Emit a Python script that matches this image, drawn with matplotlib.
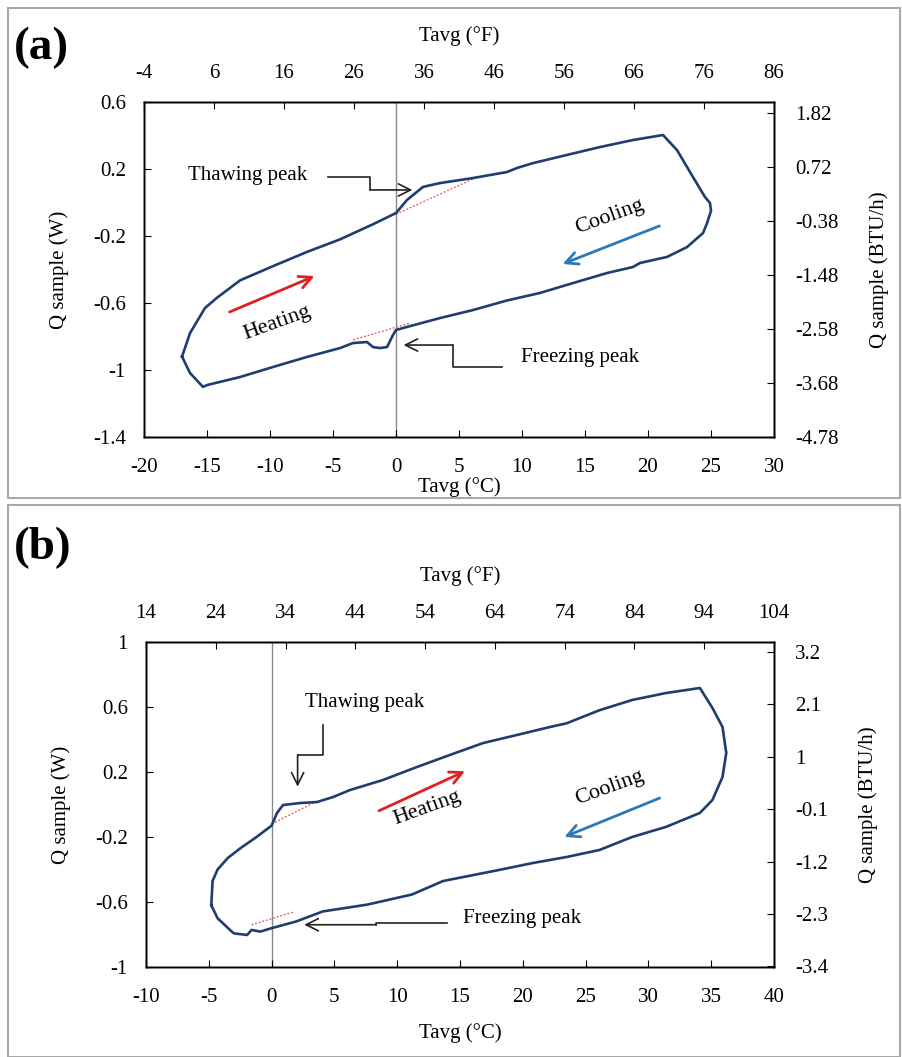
import numpy as np
import matplotlib
matplotlib.use("Agg")
from matplotlib import pyplot as plt
from matplotlib.patches import Rectangle

plt.rcParams['font.family'] = ['Liberation Serif', 'DejaVu Serif']

# ---- panel (a) : loop (deg C, W) ----
a_T = [-16.98, -16.35, -15.16, -14.23, -12.38, -9.76, -7.06, -4.44, -1.83, 0.0,
       0.87, 2.14, 3.49, 6.11, 8.81, 9.6, 10.87, 13.57, 16.19, 18.81, 21.19,
       22.3, 23.57, 24.52, 24.92, 25.0, 24.7, 24.37, 23.10, 21.51, 19.37, 18.81,
       16.75, 14.05, 11.43, 8.81, 6.11, 3.49, 0.87, 0.0, -0.24, -0.71, -1.27,
       -1.83, -2.30, -3.41, -4.44, -7.06, -9.76, -12.38, -15.0, -15.32, -16.35,
       -16.98]
a_Q = [-0.92, -0.78, -0.63, -0.57, -0.465, -0.38, -0.295, -0.22, -0.13, -0.063,
       0.015, 0.093, 0.116, 0.146, 0.182, 0.206, 0.235, 0.284, 0.331, 0.373, 0.403,
       0.313, 0.152, 0.033, -0.003, -0.05, -0.12, -0.182, -0.266, -0.325, -0.361,
       -0.385, -0.421, -0.481, -0.540, -0.585, -0.642, -0.690, -0.743, -0.761,
       -0.791, -0.863, -0.869, -0.863, -0.833, -0.839, -0.869, -0.922, -0.982,
       -1.042, -1.09, -1.101, -1.018, -0.92]
a_thaw_T = [0.0, 6.1]
a_thaw_Q = [-0.07, 0.14]
a_freeze_T = [-3.4, 1.1]
a_freeze_Q = [-0.82, -0.72]

# ---- panel (b) ----
b_T = [-4.8, -4.7, -4.3, -3.5, -2.5, -1.2, 0.0, 0.43, 0.91, 2.26, 3.61, 4.89,
       6.24, 8.87, 11.58, 14.2, 16.83, 19.54, 22.17, 23.5, 26.1, 28.7, 31.4, 34.1,
       35.1, 35.9, 36.2, 35.9, 35.1, 34.1, 31.4, 28.7, 26.1, 23.5, 20.8, 18.1,
       13.65, 11.17, 7.62, 4.08, 1.95, 0.0, -0.89, -1.6, -1.95, -3.0, -3.2, -4.3,
       -4.8]
b_Q = [-0.62, -0.47, -0.40, -0.33, -0.27, -0.20, -0.13, -0.052, -0.003, 0.009,
       0.015, 0.046, 0.089, 0.151, 0.231, 0.305, 0.378, 0.428, 0.477, 0.50, 0.58,
       0.643, 0.686, 0.717, 0.594, 0.477, 0.317, 0.169, 0.028, -0.052, -0.138,
       -0.2, -0.28, -0.323, -0.36, -0.403, -0.471, -0.554, -0.616, -0.658, -0.72,
       -0.761, -0.782, -0.772, -0.803, -0.793, -0.78, -0.70, -0.62]
b_thaw_T = [0.0, 3.6]
b_thaw_Q = [-0.12, 0.02]
b_freeze_T = [-1.6, 1.8]
b_freeze_Q = [-0.74, -0.66]

# axis tick labels
a_xticks = np.arange(-20, 31, 5)
a_yticks = [-1.4, -1, -0.6, -0.2, 0.2, 0.6]
a_fticks = np.arange(-4, 87, 10)
a_btu = [-4.78, -3.68, -2.58, -1.48, -0.38, 0.72, 1.82]
b_xticks = np.arange(-10, 41, 5)
b_yticks = [-1, -0.6, -0.2, 0.2, 0.6, 1]
b_fticks = np.arange(14, 105, 10)
b_btu = [-3.4, -2.3, -1.2, -0.1, 1, 2.1, 3.2]

W2BTU = 3.412
LINE = '#1f3d6d'
FS = 15


def c2f(c):
    return c * 1.8 + 32


def setup(ax, xlim, ylim, xt, yt, ft, btu, xlabelpad):
    ax.set_xlim(xlim)
    ax.set_ylim(ylim)
    ax.set_xticks(xt)
    ax.set_xticklabels([f'{v:g}' for v in xt])
    ax.set_yticks(yt)
    ax.set_yticklabels([f'{v:g}' for v in yt])
    ax.tick_params(direction='in', length=5, labelsize=FS)
    ax.tick_params(axis='x', pad=15)
    ax.tick_params(axis='y', pad=13)
    ax.set_xlabel('Tavg (°C)', fontsize=FS, labelpad=xlabelpad)
    ax.set_ylabel('Q sample (W)', fontsize=FS, labelpad=17)
    ax.axvline(0, color='#888888', lw=1.0, zorder=1)

    top = ax.twiny()
    top.set_xlim(c2f(xlim[0]), c2f(xlim[1]))
    top.set_xticks(ft)
    top.set_xticklabels([f'{v:g}' for v in ft])
    top.tick_params(direction='in', length=5, labelsize=FS, pad=14)
    top.set_xlabel('Tavg (°F)', fontsize=FS, labelpad=16)

    right = ax.twinx()
    right.set_ylim(ylim[0] * W2BTU, ylim[1] * W2BTU)
    right.set_yticks(btu)
    right.set_yticklabels([f'{v:g}' for v in btu])
    right.tick_params(direction='in', length=5, labelsize=FS, pad=15)
    right.set_ylabel('Q sample (BTU/h)', fontsize=FS, labelpad=22)
    for a in (ax, top, right):
        for s in a.spines.values():
            s.set_linewidth(1.0)


def bent_arrow(ax, xs, ys):
    # polyline leader ending with an open arrow head
    ax.plot(xs[:-1], ys[:-1], color='#222222', lw=1.2)
    ax.annotate('', xy=(xs[-1], ys[-1]), xytext=(xs[-2], ys[-2]),
                arrowprops=dict(arrowstyle='->', color='#222222', lw=1.2,
                                mutation_scale=22, shrinkA=0, shrinkB=0))


fig = plt.figure(figsize=(9.02, 10.57), dpi=100)

# panel frames
for y0, h in [(1 - 498 / 1057, 490 / 1057), (0.0, 552 / 1057)]:
    fig.add_artist(Rectangle((8 / 902, y0), 892 / 902, h, transform=fig.transFigure,
                             fill=False, edgecolor='#a8a8a8', lw=1.5))

# ---------------- (a) ----------------
ax1 = fig.add_axes([144 / 902, 1 - 437 / 1057, 630 / 902, 335 / 1057])
setup(ax1, (-20, 30), (-1.4, 0.6), a_xticks, a_yticks, a_fticks, a_btu, 0)
ax1.plot(a_T, a_Q, color=LINE, lw=1.9, zorder=3)
ax1.plot(a_thaw_T, a_thaw_Q, color='#e05050', lw=0.9, ls=(0, (1.5, 1.5)), zorder=2)
ax1.plot(a_freeze_T, a_freeze_Q, color='#e05050', lw=0.9, ls=(0, (1.5, 1.5)), zorder=2)
ax1.text(-11.75, 0.164, 'Thawing peak', fontsize=15, ha='center', va='center')
bent_arrow(ax1, [-5.4, -2.06, -2.06, 1.3], [0.152, 0.152, 0.075, 0.075])
ax1.text(14.6, -0.928, 'Freezing peak', fontsize=15, ha='center', va='center')
bent_arrow(ax1, [8.4, 4.5, 4.5, 0.6], [-0.982, -0.982, -0.851, -0.851])
ax1.annotate('', xy=(-6.27, -0.433), xytext=(-13.41, -0.66),
             arrowprops=dict(arrowstyle='->', color='#e02020', lw=2.0, mutation_scale=22))
ax1.text(-9.44, -0.72, 'Heating', fontsize=16, rotation=20, ha='center', va='center')
ax1.annotate('', xy=(13.02, -0.373), xytext=(21.11, -0.134),
             arrowprops=dict(arrowstyle='->', color='#2a7ab8', lw=2.0, mutation_scale=22))
ax1.text(16.98, -0.087, 'Cooling', fontsize=16, rotation=20, ha='center', va='center')
fig.text(14 / 902, 1 - 48 / 1057, '(a)', fontsize=34, fontweight='bold', va='center')

# ---------------- (b) ----------------
ax2 = fig.add_axes([146 / 902, 1 - 967 / 1057, 628 / 902, 325 / 1057])
setup(ax2, (-10, 40), (-1, 1), b_xticks, b_yticks, b_fticks, b_btu, 12)
ax2.plot(b_T, b_Q, color=LINE, lw=1.9, zorder=3)
ax2.plot(b_thaw_T, b_thaw_Q, color='#e05050', lw=0.9, ls=(0, (1.5, 1.5)), zorder=2)
ax2.plot(b_freeze_T, b_freeze_Q, color='#e05050', lw=0.9, ls=(0, (1.5, 1.5)), zorder=2)
ax2.text(7.4, 0.625, 'Thawing peak', fontsize=15, ha='center', va='center')
bent_arrow(ax2, [4.06, 4.06, 2.07, 2.07], [0.49, 0.305, 0.305, 0.11])
ax2.text(19.95, -0.70, 'Freezing peak', fontsize=15, ha='center', va='center')
bent_arrow(ax2, [14.0, 8.33, 8.33, 2.6], [-0.73, -0.73, -0.74, -0.74])
ax2.annotate('', xy=(15.6, 0.212), xytext=(8.34, -0.046),
             arrowprops=dict(arrowstyle='->', color='#e02020', lw=2.0, mutation_scale=22))
ax2.text(12.4, -0.02, 'Heating', fontsize=16, rotation=20, ha='center', va='center')
ax2.annotate('', xy=(23.1, -0.206), xytext=(31.1, 0.046),
             arrowprops=dict(arrowstyle='->', color='#2a7ab8', lw=2.0, mutation_scale=22))
ax2.text(26.9, 0.10, 'Cooling', fontsize=16, rotation=20, ha='center', va='center')
fig.text(14 / 902, 1 - 548 / 1057, '(b)', fontsize=34, fontweight='bold', va='center')

fig.savefig('out.png', dpi=100)
